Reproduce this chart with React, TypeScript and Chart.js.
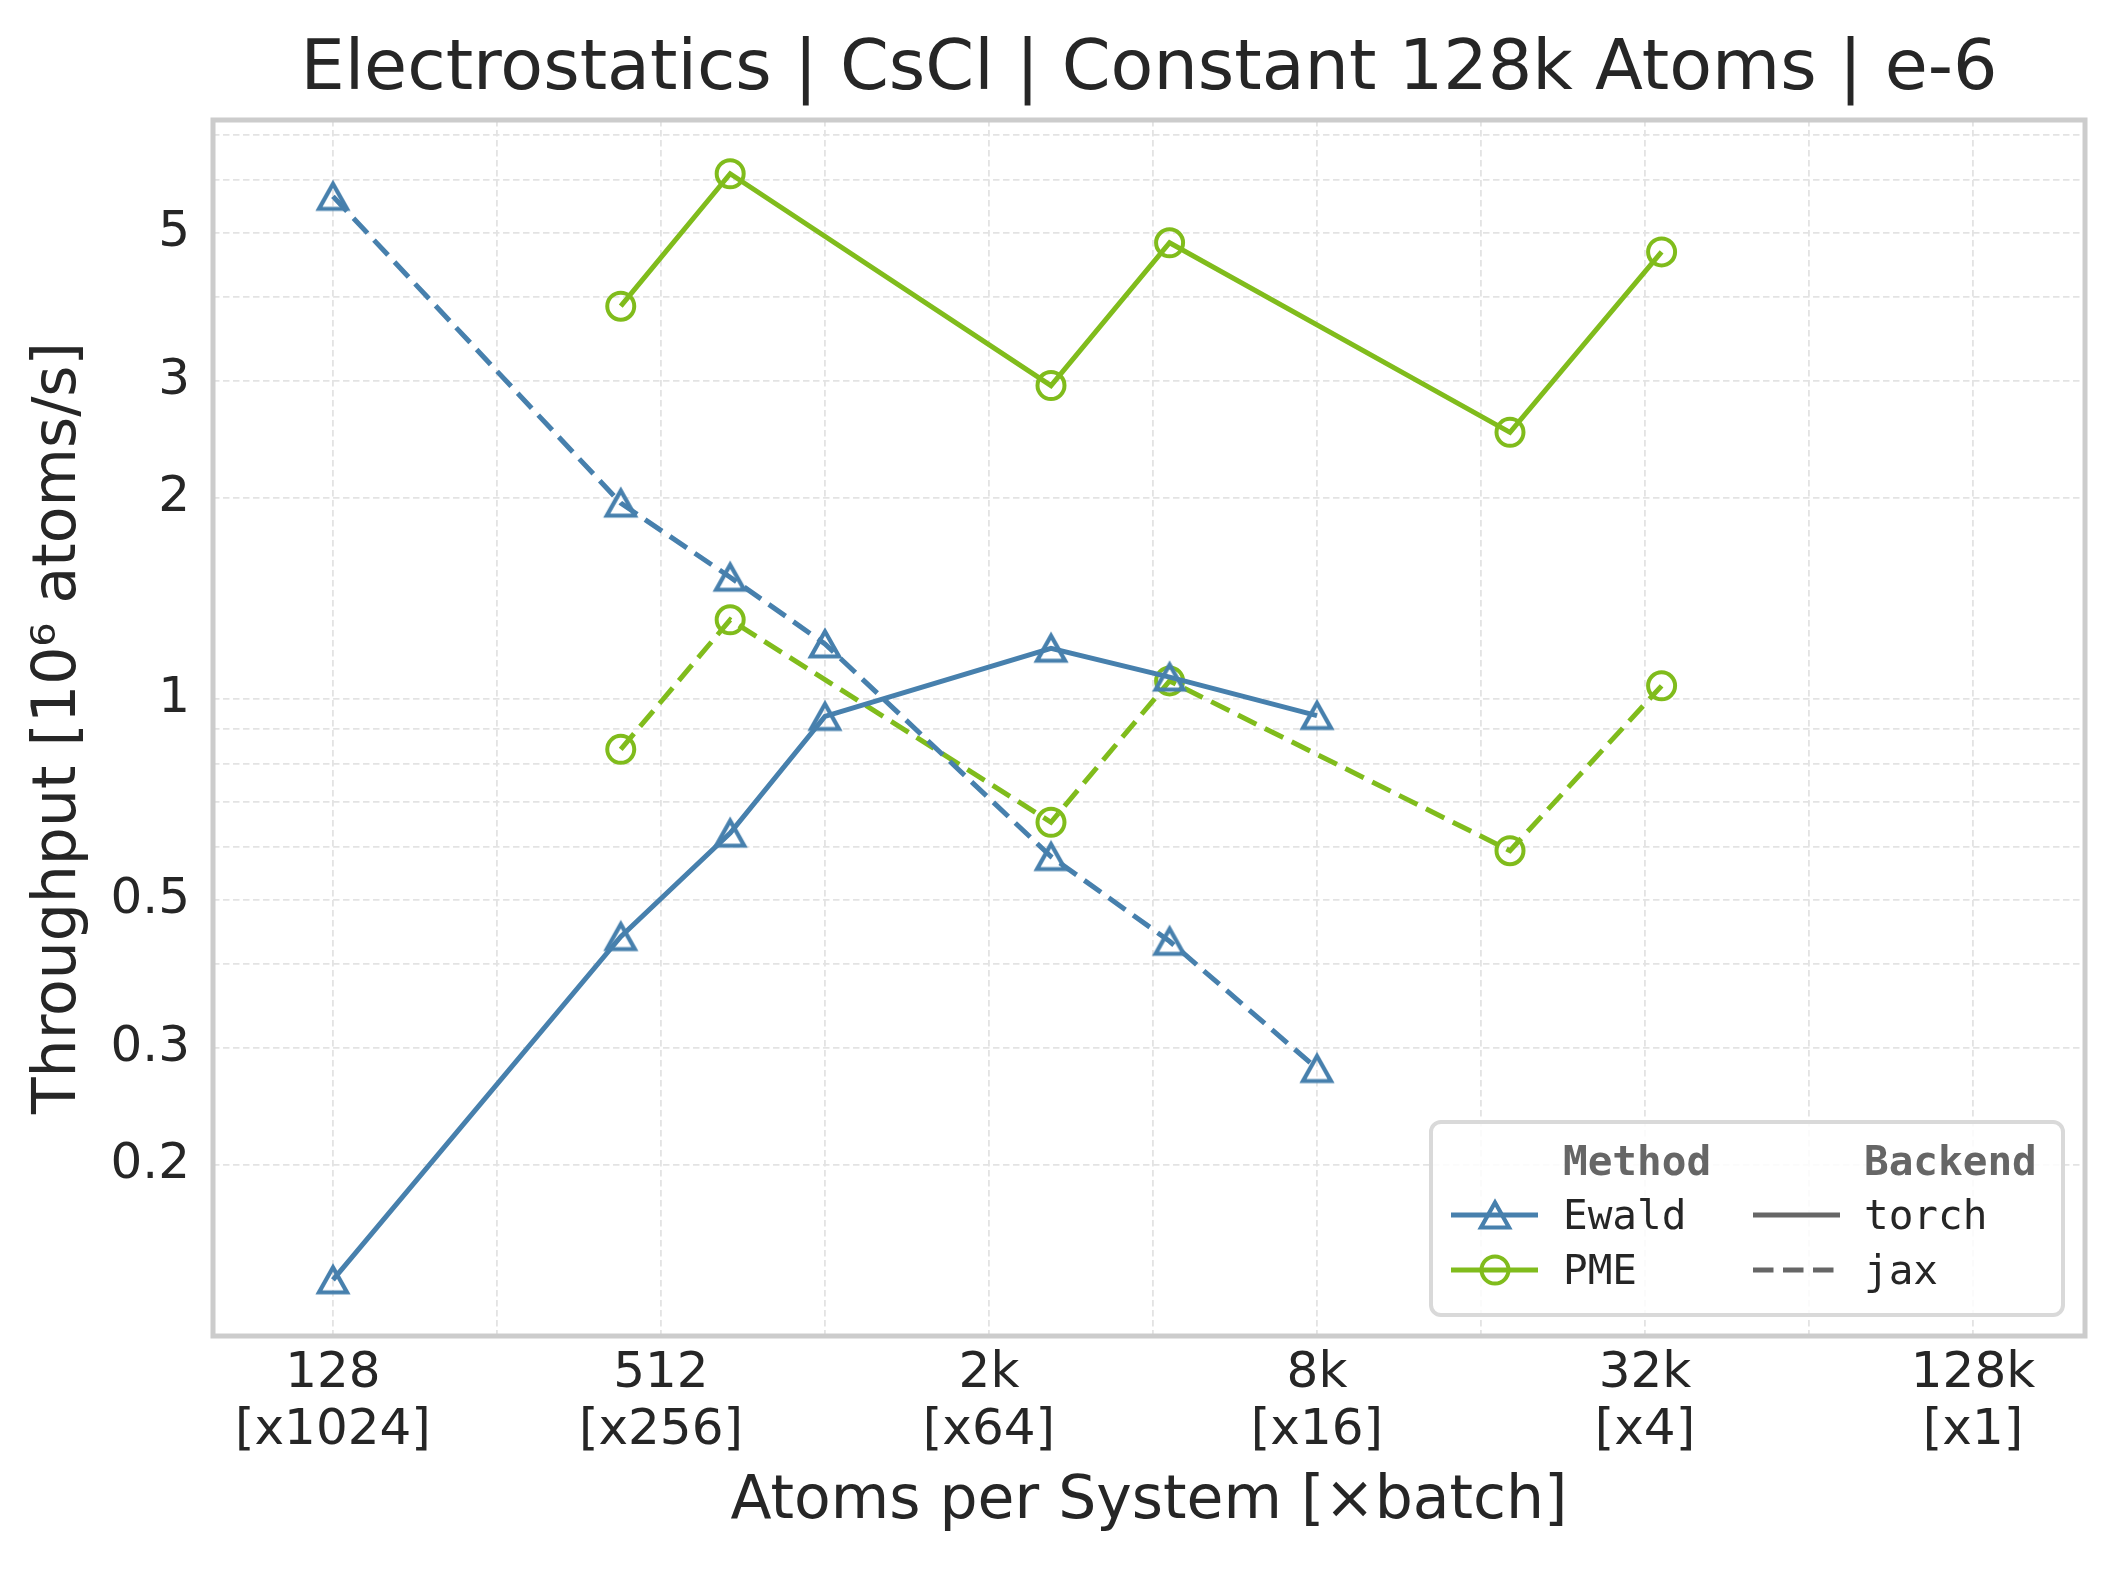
import { useEffect, useRef } from "react";
import { Chart, registerables } from "chart.js";

Chart.register(...registerables);

const TITLE = "Electrostatics | CsCl | Constant 128k Atoms | e-6";
const X_TITLE = "Atoms per System [×batch]";
const Y_TITLE = "Throughput [10⁶ atoms/s]";

// atoms per system for each method
const ewaldSizes = [128, 432, 686, 1024, 2662, 4394, 8192];
const pmeSizes = [432, 686, 2662, 4394, 18522, 35152];

// throughput in 10^6 atoms/s
const ewaldTorch = [0.1345, 0.44, 0.629, 0.941, 1.191, 1.078, 0.944];
const ewaldJax = [5.67, 1.966, 1.522, 1.209, 0.58, 0.433, 0.279];
const pmeTorch = [3.88, 6.13, 2.95, 4.83, 2.51, 4.68];
const pmeJax = [0.84, 1.314, 0.653, 1.064, 0.592, 1.046];

const xGridValues = [128, 256, 512, 1024, 2048, 4096, 8192, 16384, 32768, 65536, 131072];
const xTickValues = [128, 512, 2048, 8192, 32768, 131072];
const xTickLabels = ["128", "512", "2k", "8k", "32k", "128k"];
const xBatchLabels = ["[x1024]", "[x256]", "[x64]", "[x16]", "[x4]", "[x1]"];

const yGridValues = [0.2, 0.3, 0.4, 0.5, 0.6, 0.7, 0.8, 0.9, 1, 2, 3, 4, 5, 6, 7];
const yTickValues = [0.2, 0.3, 0.5, 1, 2, 3, 5];

const methodNames = ["Ewald", "PME"];
const backendNames = ["torch", "jax"];

const X_MIN = 77.1;
const X_MAX = 210430;
const Y_MIN = 0.1108;
const Y_MAX = 7.38;

const BLUE = "#4780ad";
const GREEN = "#80bc1c";
const TEXT = "#262626";
const GRID = "#e3e3e3";
const FRAME = "#cccccc";
const DASH = [20.5, 9.5];

function makeTriangle(color: string): HTMLCanvasElement {
  const c = document.createElement("canvas");
  c.width = 50;
  c.height = 50;
  const g = c.getContext("2d")!;
  g.strokeStyle = color;
  g.lineWidth = 4.2;
  g.lineJoin = "miter";
  g.beginPath();
  g.moveTo(25, 25 - 12.5);
  g.lineTo(25 + 14, 25 + 12.5);
  g.lineTo(25 - 14, 25 + 12.5);
  g.closePath();
  g.stroke();
  return c;
}

export default function App() {
  const ref = useRef<HTMLCanvasElement | null>(null);

  useEffect(() => {
    document.body.style.margin = "0";
    const canvas = ref.current;
    if (!canvas) return;
    Chart.defaults.font.family = "'DejaVu Sans', sans-serif";
    Chart.defaults.color = TEXT;

    const tri = makeTriangle(BLUE);

    const decor = {
      id: "decor",
      afterDatasetsDraw(chart: any) {
        const { ctx, chartArea: a } = chart;
        ctx.save();
        ctx.strokeStyle = FRAME;
        ctx.lineWidth = 5;
        ctx.strokeRect(a.left, a.top, a.right - a.left, a.bottom - a.top);
        ctx.restore();
      },
      afterDraw(chart: any) {
        const { ctx, chartArea: a } = chart;
        ctx.save();
        // title
        ctx.fillStyle = TEXT;
        ctx.font = "70px 'DejaVu Sans'";
        ctx.textAlign = "center";
        ctx.textBaseline = "alphabetic";
        ctx.fillText(TITLE, (a.left + a.right) / 2, 89);

        // legend box
        const bx = 1431, by = 1122, bw = 632, bh = 193, r = 10;
        ctx.beginPath();
        ctx.moveTo(bx + r, by);
        ctx.arcTo(bx + bw, by, bx + bw, by + bh, r);
        ctx.arcTo(bx + bw, by + bh, bx, by + bh, r);
        ctx.arcTo(bx, by + bh, bx, by, r);
        ctx.arcTo(bx, by, bx + bw, by, r);
        ctx.closePath();
        ctx.fillStyle = "rgba(255,255,255,0.85)";
        ctx.fill();
        ctx.strokeStyle = "#d9d9d9";
        ctx.lineWidth = 4;
        ctx.stroke();

        ctx.textAlign = "left";
        ctx.textBaseline = "alphabetic";
        ctx.font = "bold 41px 'DejaVu Sans Mono'";
        ctx.fillStyle = "#666666";
        ctx.fillText("Method", 1563, 1175);
        ctx.fillText("Backend", 1864, 1175);

        const rows = [1215, 1270];
        ctx.font = "41px 'DejaVu Sans Mono'";
        ctx.fillStyle = TEXT;
        methodNames.forEach((n, i) => ctx.fillText(n, 1563, rows[i] + 14));
        backendNames.forEach((n, i) => ctx.fillText(n, 1864, rows[i] + 14));

        ctx.lineCap = "butt";
        // method handles
        [BLUE, GREEN].forEach((col, i) => {
          ctx.strokeStyle = col;
          ctx.lineWidth = 5;
          ctx.setLineDash([]);
          ctx.beginPath();
          ctx.moveTo(1451, rows[i]);
          ctx.lineTo(1538, rows[i]);
          ctx.stroke();
        });
        ctx.drawImage(tri, 1495 - tri.width / 2, rows[0] - tri.height / 2);
        ctx.strokeStyle = GREEN;
        ctx.lineWidth = 4;
        ctx.beginPath();
        ctx.arc(1495, rows[1], 13.5, 0, Math.PI * 2);
        ctx.stroke();
        // backend handles
        ctx.strokeStyle = "#666666";
        ctx.lineWidth = 5;
        ctx.beginPath();
        ctx.moveTo(1753, rows[0]);
        ctx.lineTo(1840, rows[0]);
        ctx.stroke();
        ctx.setLineDash(DASH);
        ctx.beginPath();
        ctx.moveTo(1753, rows[1]);
        ctx.lineTo(1840, rows[1]);
        ctx.stroke();
        ctx.restore();
      },
    };

    const mk = (xs: number[], ys: number[]) => xs.map((x, i) => ({ x, y: ys[i] }));

    const triSet = (label: string, data: any, dash: number[]) => ({
      label,
      data,
      borderColor: BLUE,
      borderWidth: 5,
      borderDash: dash,
      borderCapStyle: "butt",
      pointStyle: tri,
      pointRadius: 15,
      fill: false,
      tension: 0,
    });
    const circSet = (label: string, data: any, dash: number[]) => ({
      label,
      data,
      borderColor: GREEN,
      borderWidth: 5,
      borderDash: dash,
      borderCapStyle: "butt",
      pointStyle: "circle",
      pointRadius: 13.5,
      pointBorderWidth: 4,
      pointBorderColor: GREEN,
      pointBackgroundColor: "rgba(0,0,0,0)",
      fill: false,
      tension: 0,
    });

    const gridOpts = { color: GRID, lineWidth: 1.8, drawTicks: false };
    const borderOpts = { display: false, dash: [6.5, 3.5] };

    const chart = new Chart(canvas, {
      type: "line",
      data: {
        datasets: [
          triSet("Ewald torch", mk(ewaldSizes, ewaldTorch), []),
          triSet("Ewald jax", mk(ewaldSizes, ewaldJax), DASH),
          circSet("PME torch", mk(pmeSizes, pmeTorch), []),
          circSet("PME jax", mk(pmeSizes, pmeJax), DASH),
        ] as any,
      },
      options: {
        animation: false,
        responsive: false,
        devicePixelRatio: 1,
        layout: { padding: { top: 120, right: 33, bottom: 0, left: 0 } },
        plugins: {
          legend: { display: false },
          title: { display: false },
          tooltip: { enabled: false },
        },
        scales: {
          x: {
            type: "logarithmic",
            min: X_MIN,
            max: X_MAX,
            bounds: "data",
            afterBuildTicks: (s: any) => {
              s.ticks = xGridValues.map((v) => ({ value: v }));
            },
            afterFit: (s: any) => {
              s.height = 236;
            },
            grid: gridOpts,
            border: borderOpts,
            ticks: {
              autoSkip: false,
              maxRotation: 0,
              minRotation: 0,
              padding: 10,
              color: TEXT,
              font: { size: 50, lineHeight: 1.13 },
              callback: (v: any) => {
                const i = xTickValues.indexOf(Number(v));
                return i < 0 ? "" : [xTickLabels[i], xBatchLabels[i]];
              },
            },
            title: {
              display: true,
              text: X_TITLE,
              color: TEXT,
              font: { size: 60, lineHeight: 1.2 },
              padding: { top: 0, bottom: 34 },
            },
          },
          y: {
            type: "logarithmic",
            min: Y_MIN,
            max: Y_MAX,
            bounds: "data",
            afterBuildTicks: (s: any) => {
              s.ticks = yGridValues.map((v) => ({ value: v }));
            },
            afterFit: (s: any) => {
              s.width = 213;
            },
            grid: gridOpts,
            border: borderOpts,
            ticks: {
              autoSkip: false,
              padding: 23,
              color: TEXT,
              font: { size: 50 },
              callback: (v: any) => (yTickValues.includes(Number(v)) ? String(v) : ""),
            },
            title: {
              display: true,
              text: Y_TITLE,
              color: TEXT,
              font: { size: 60, lineHeight: 1.2 },
              padding: { top: 23, bottom: 0 },
            },
          },
        },
      } as any,
      plugins: [decor],
    });

    return () => chart.destroy();
  }, []);

  return <canvas ref={ref} width={2118} height={1572} style={{ display: "block" }} />;
}
